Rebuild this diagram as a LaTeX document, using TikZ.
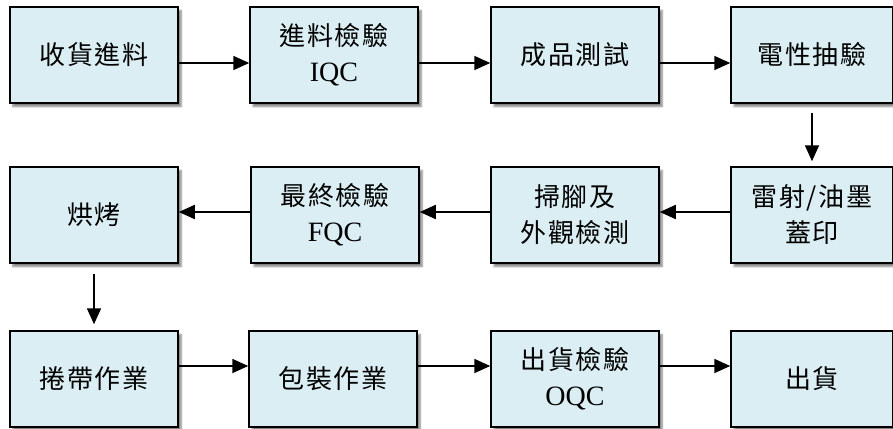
\documentclass[tikz,border=0pt]{standalone}
\usepackage{fontspec}
\setmainfont{Liberation Serif}
\newfontfamily\cjk[LetterSpace=6]{Noto Sans CJK TC}
\usetikzlibrary{arrows.meta,shadows.blur}
\definecolor{boxfill}{HTML}{DAEEF3}
\tikzset{
  procbox/.style={draw=black, line width=1.5pt, fill=boxfill, minimum height=96pt,
    inner sep=0pt, align=center,
    blur shadow={shadow xshift=3pt, shadow yshift=-3.5pt, shadow blur steps=6, shadow opacity=50},
    font=\fontsize{28}{36}\selectfont},
  flow/.style={line width=1.8pt, -{Triangle[length=16pt,width=14pt]}},
}
\newcommand{\zh}[1]{{\fontsize{26}{36}\selectfont\cjk #1}}
\begin{document}
\begin{tikzpicture}[x=1pt,y=-1pt]
\useasboundingbox (0,0) rectangle (893,428);
% row 1
\node[procbox, minimum width=168pt] (a1) at (94,55) {\zh{收貨進料}};
\node[procbox, minimum width=168pt] (a2) at (334,55) {\zh{進料檢驗}\\IQC};
\node[procbox, minimum width=168pt] (a3) at (575,55) {\zh{成品測試}};
\node[procbox, minimum width=162pt] (a4) at (812,55) {\zh{電性抽驗}};
% row 2
\node[procbox, minimum width=168pt] (b1) at (94,215) {\zh{烘烤}};
\node[procbox, minimum width=168pt] (b2) at (335,215) {\zh{最終檢驗}\\FQC};
\node[procbox, minimum width=168pt] (b3) at (575,215) {\zh{掃腳及}\\\zh{外觀檢測}};
\node[procbox, minimum width=162pt] (b4) at (812,215) {\zh{雷射/油墨}\\\zh{蓋印}};
% row 3
\node[procbox, minimum width=168pt] (c1) at (94,379) {\zh{捲帶作業}};
\node[procbox, minimum width=168pt] (c2) at (333,379) {\zh{包裝作業}};
\node[procbox, minimum width=168pt] (c3) at (575,379) {\zh{出貨檢驗}\\OQC};
\node[procbox, minimum width=162pt] (c4) at (812,379) {\zh{出貨}};
% connectors
\draw[flow] ([yshift=-8pt]a1.east) -- ([yshift=-8pt]a2.west);
\draw[flow] ([yshift=-8pt]a2.east) -- ([yshift=-8pt]a3.west);
\draw[flow] ([yshift=-8pt]a3.east) -- ([yshift=-8pt]a4.west);
\draw[flow] ([yshift=-9pt]a4.south) -- ([yshift=5pt]b4.north);
\draw[flow] ([yshift=3pt]b4.west) -- ([yshift=3pt]b3.east);
\draw[flow] ([yshift=3pt]b3.west) -- ([yshift=3pt]b2.east);
\draw[flow] ([yshift=3pt]b2.west) -- ([yshift=3pt]b1.east);
\draw[flow] ([yshift=-10pt]b1.south) -- ([yshift=6pt]c1.north);
\draw[flow] ([yshift=13pt]c1.east) -- ([yshift=13pt]c2.west);
\draw[flow] ([yshift=13pt]c2.east) -- ([yshift=13pt]c3.west);
\draw[flow] ([yshift=13pt]c3.east) -- ([yshift=13pt]c4.west);
\end{tikzpicture}
\end{document}
